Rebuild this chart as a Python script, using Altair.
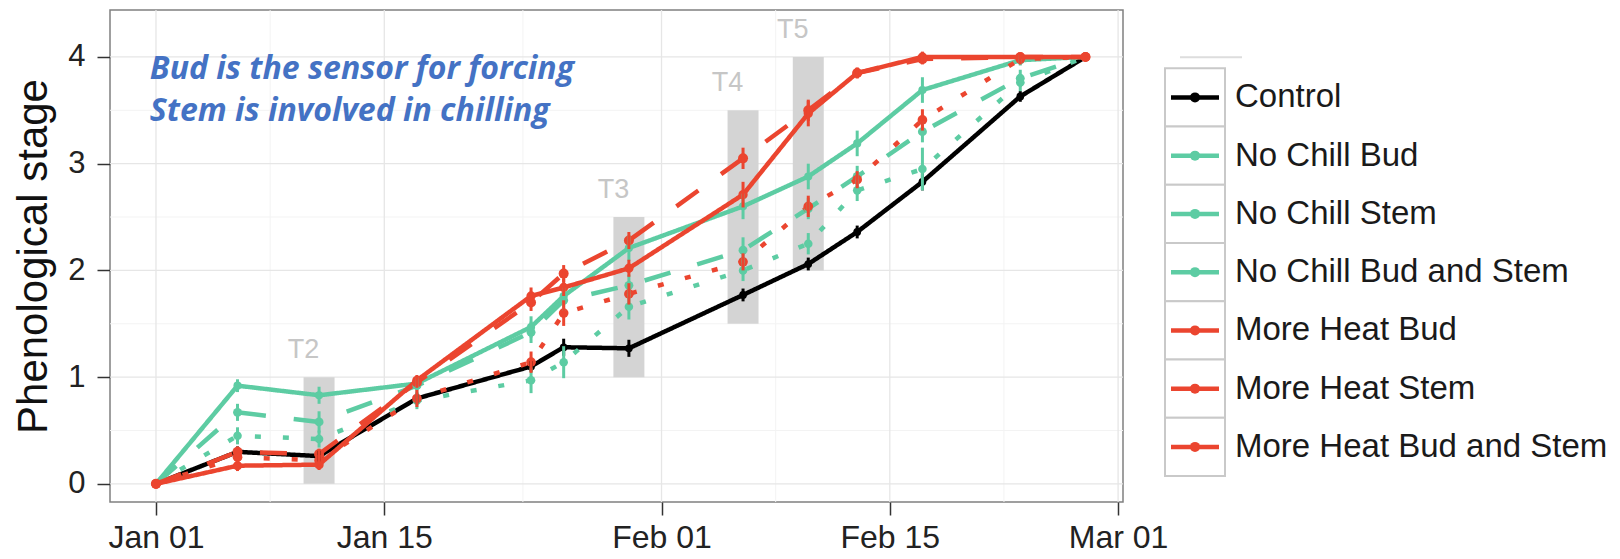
import altair as alt
import pandas as pd

# ---------------- data ----------------
series_names = ["Control", "No Chill Bud", "No Chill Stem", "No Chill Bud and Stem",
                "More Heat Bud", "More Heat Stem", "More Heat Bud and Stem"]
series_colors = ["#000000", "#5DCCA3", "#5DCCA3", "#5DCCA3", "#EB452F", "#EB452F", "#EB452F"]
series_dash = [[1, 0], [1, 0], [6, 22], [27, 28], [1, 0], [6, 22], [27, 28]]
series_width = [4.5, 4.5, 4.5, 4.5, 5.5, 5.5, 5.5]
series_psize = [60, 100, 100, 100, 130, 130, 130]

obs_dates = ["2014-01-01", "2014-01-06", "2014-01-11", "2014-01-17", "2014-01-24",
             "2014-01-26", "2014-01-30", "2014-02-06", "2014-02-10", "2014-02-13",
             "2014-02-17", "2014-02-23", "2014-02-27"]

control = [0, 0.30, 0.26, 0.80, 1.10, 1.28, 1.27, 1.77, 2.06, 2.36, 2.83, 3.63, 4.0]
nc_bud = [0, 0.92, 0.83, 0.94, 1.47, 1.76, 2.21, 2.60, 2.88, 3.19, 3.69, 3.97, 4.0]
nc_stem = [0, 0.45, 0.42, 0.78, 0.97, 1.14, 1.66, 2.00, 2.25, 2.75, 2.95, 3.76, 4.0]
nc_both = [0, 0.67, 0.58, 0.92, 1.42, 1.72, 1.86, 2.19, 2.58, 2.88, 3.30, 3.80, 4.0]
mh_bud = [0, 0.17, 0.18, 0.97, 1.76, 1.84, 2.02, 2.71, 3.47, 3.85, 4.0, 4.0, 4.0]
mh_stem = [0, 0.25, 0.22, 0.80, 1.14, 1.60, 1.78, 2.08, 2.60, 2.85, 3.41, 3.98, 4.0]
mh_both = [0, 0.30, 0.28, 0.95, 1.70, 1.97, 2.28, 3.05, 3.50, 3.85, 3.98, 4.0, 4.0]

control_err = [0, 0.05, 0.05, 0.05, 0.05, 0.08, 0.08, 0.06, 0.06, 0.06, 0.08, 0.05, 0]
nc_bud_err = [0, 0.06, 0.08, 0.05, 0.10, 0.08, 0.12, 0.12, 0.12, 0.12, 0.12, 0.05, 0]
nc_stem_err = [0, 0.08, 0.08, 0.08, 0.12, 0.15, 0.12, 0.10, 0.10, 0.10, 0.20, 0.08, 0]
nc_both_err = [0, 0.08, 0.10, 0.08, 0.10, 0.10, 0.10, 0.12, 0.10, 0.10, 0.10, 0.08, 0]
mh_bud_err = [0, 0.05, 0.05, 0.05, 0.08, 0.08, 0.08, 0.12, 0.12, 0.05, 0.05, 0.02, 0]
mh_stem_err = [0, 0.05, 0.05, 0.08, 0.10, 0.12, 0.10, 0.08, 0.10, 0.08, 0.10, 0.05, 0]
mh_both_err = [0, 0.05, 0.05, 0.05, 0.08, 0.08, 0.08, 0.10, 0.10, 0.05, 0.05, 0.02, 0]

all_values = [control, nc_bud, nc_stem, nc_both, mh_bud, mh_stem, mh_both]
all_errs = [control_err, nc_bud_err, nc_stem_err, nc_both_err, mh_bud_err, mh_stem_err, mh_both_err]

# treatment windows
t_labels = ["T2", "T3", "T4", "T5"]
t_start = ["2014-01-10T01:12:00Z", "2014-01-29T01:12:00Z", "2014-02-05T01:12:00Z", "2014-02-09T01:12:00Z"]
t_end = ["2014-01-11T22:48:00Z", "2014-01-30T22:48:00Z", "2014-02-06T22:48:00Z", "2014-02-10T22:48:00Z"]
t_low = [0, 1, 1.5, 2]
t_high = [1, 2.5, 3.5, 4]

# axes / grid
x_tick_md = [(1, 1), (1, 15), (2, 1), (2, 15), (3, 1)]
x_major = ["2014-01-01", "2014-01-15", "2014-02-01", "2014-02-15", "2014-03-01"]
x_minor = ["2014-01-08", "2014-01-23T12:00:00Z", "2014-02-08", "2014-02-22"]
y_major = [0, 1, 2, 3, 4]
y_minor = [0.5, 1.5, 2.5, 3.5]

note_lines = ["Bud is the sensor for forcing", "Stem is involved in chilling"]
note_date = ["2013-12-31T15:00:00Z", "2013-12-31T15:00:00Z"]
note_y = [3.89, 3.49]

# ---------------- tables ----------------
rows = []
for name, vals, errs in zip(series_names, all_values, all_errs):
    for d, v, e in zip(obs_dates, vals, errs):
        rows.append({"series": name, "date": d, "value": v, "lo": v - e, "hi": v + e})
df = pd.DataFrame(rows)

tdf = pd.DataFrame({"label": t_labels, "start": t_start,
                    "end": t_end, "low": t_low, "high": t_high})
notes = pd.DataFrame({"text": note_lines, "date": note_date, "y": note_y})
gx_major = pd.DataFrame({"d": x_major})
gx_minor = pd.DataFrame({"d": x_minor})
gy_major = pd.DataFrame({"v": y_major})
gy_minor = pd.DataFrame({"v": y_minor})

# ---------------- scales ----------------
x_dom = [alt.DateTime(year=2013, month=12, date=29, hours=4, minutes=19, utc=True),
         alt.DateTime(year=2014, month=3, date=1, hours=7, minutes=12, utc=True)]
xscale = alt.Scale(type="utc", domain=x_dom, nice=False)
yscale = alt.Scale(domain=[-0.17, 4.44], nice=False, zero=False)
color_scale = alt.Scale(domain=series_names, range=series_colors)
dash_scale = alt.Scale(domain=series_names, range=series_dash)
width_scale = alt.Scale(domain=series_names, range=series_width)
size_scale = alt.Scale(domain=series_names, range=series_psize)

x_axis = alt.Axis(values=[alt.DateTime(year=2014, month=m, date=d, utc=True) for m, d in x_tick_md],
                  format="%b %d", title=None, labelPadding=7, labelFontSize=32)
y_axis = alt.Axis(values=y_major, format="d", title="Phenological stage",
                  labelPadding=12, titlePadding=12, labelFontSize=31)

X = alt.X("date:T", scale=xscale, axis=x_axis)
Y = alt.Y("value:Q", scale=yscale, axis=y_axis)

grid_major_x = alt.Chart(gx_major).mark_rule(color="#E6E6E6", strokeWidth=1.3).encode(
    x=alt.X("d:T", scale=xscale, axis=x_axis))
grid_minor_x = alt.Chart(gx_minor).mark_rule(color="#F3F3F3", strokeWidth=1).encode(
    x=alt.X("d:T", scale=xscale))
grid_major_y = alt.Chart(gy_major).mark_rule(color="#E6E6E6", strokeWidth=1.3).encode(
    y=alt.Y("v:Q", scale=yscale, axis=y_axis))
grid_minor_y = alt.Chart(gy_minor).mark_rule(color="#F3F3F3", strokeWidth=1).encode(
    y=alt.Y("v:Q", scale=yscale))

tbars = alt.Chart(tdf).mark_rect(color="#D4D4D4").encode(
    x=alt.X("start:T", scale=xscale), x2="end:T",
    y=alt.Y("low:Q", scale=yscale), y2="high:Q")
tlabels = alt.Chart(tdf).mark_text(font="Liberation Sans", fontSize=27, color="#C6C6C6",
                                   baseline="middle", dy=-27).encode(
    x=alt.X("start:T", scale=xscale), y=alt.Y("high:Q", scale=yscale), text="label:N")

lines = alt.Chart(df).mark_line(strokeCap="butt", strokeJoin="round").encode(
    x=X, y=Y,
    color=alt.Color("series:N", scale=color_scale, legend=None),
    strokeDash=alt.StrokeDash("series:N", scale=dash_scale, legend=None),
    strokeWidth=alt.StrokeWidth("series:N", scale=width_scale, legend=None),
    detail="series:N")

points = alt.Chart(df).mark_circle(opacity=1).encode(
    x=X, y=Y,
    color=alt.Color("series:N", scale=color_scale, legend=None),
    size=alt.Size("series:N", scale=size_scale, legend=None))

errbars = alt.Chart(df).mark_rule(strokeWidth=3).encode(
    x=X, y=alt.Y("lo:Q", scale=yscale), y2="hi:Q",
    color=alt.Color("series:N", scale=color_scale, legend=None))

note = alt.Chart(notes).mark_text(align="left", baseline="middle", font="Open Sans",
                                  fontStyle="italic", fontWeight="bold", fontSize=32,
                                  color="#4472C4").encode(
    x=alt.X("date:T", scale=xscale), y=alt.Y("y:Q", scale=yscale), text="text:N")

plot = alt.layer(grid_minor_x, grid_minor_y, grid_major_x, grid_major_y, tbars, tlabels,
                 lines, points, errbars, note).properties(
    width=1013, height=492,
    view=alt.ViewBackground(stroke="#808080", strokeWidth=1.5))

# ---------------- custom legend ----------------
leg_df = pd.DataFrame({"series": series_names})
head_df = pd.DataFrame({"series": [""]})
ly_scale = alt.Scale(domain=[""] + series_names, paddingInner=0, paddingOuter=0)
LY = alt.Y("series:N", scale=ly_scale, axis=None)
LYc = alt.Y("series:N", scale=ly_scale, axis=None, bandPosition=0.5)

leg_boxes = alt.Chart(leg_df).mark_rect(fill="white", stroke="#C9C9C9", strokeWidth=2).encode(
    x=alt.value(0), x2=alt.value(60), y=LY)
leg_head = alt.Chart(head_df).mark_rule(color="#DDDDDD", strokeWidth=2, yOffset=18).encode(
    x=alt.value(15), x2=alt.value(77), y=LYc)
leg_lines = alt.Chart(leg_df).mark_rule(strokeWidth=4.5).encode(
    x=alt.value(6), x2=alt.value(54), y=LYc,
    color=alt.Color("series:N", scale=color_scale, legend=None))
leg_pts = alt.Chart(leg_df).mark_circle(opacity=1, size=100).encode(
    x=alt.value(30), y=LYc,
    color=alt.Color("series:N", scale=color_scale, legend=None))
leg_text = alt.Chart(leg_df).mark_text(align="left", baseline="middle", font="Liberation Sans",
                                       fontSize=33, color="#1A1A1A", dy=0).encode(
    x=alt.value(70), y=LYc, text="series:N")

legend = alt.layer(leg_boxes, leg_head, leg_lines, leg_pts, leg_text).properties(
    width=440, height=466, view=alt.ViewBackground(stroke=None))

chart = alt.hconcat(plot, legend, spacing=42, bounds="flush").resolve_scale(
    x="independent", y="independent"
).configure(
    padding={"left": 4, "top": 0, "right": 0, "bottom": 0}
).configure_axis(
    labelFont="Liberation Sans", labelColor="#222222",
    titleFont="Liberation Sans", titleFontSize=42, titleColor="#111111", titleFontWeight="normal",
    tickColor="#333333", tickWidth=1.5, tickSize=13, domain=False, grid=False
)

chart.save("out.html", embed_options={"renderer": "svg", "actions": False})
